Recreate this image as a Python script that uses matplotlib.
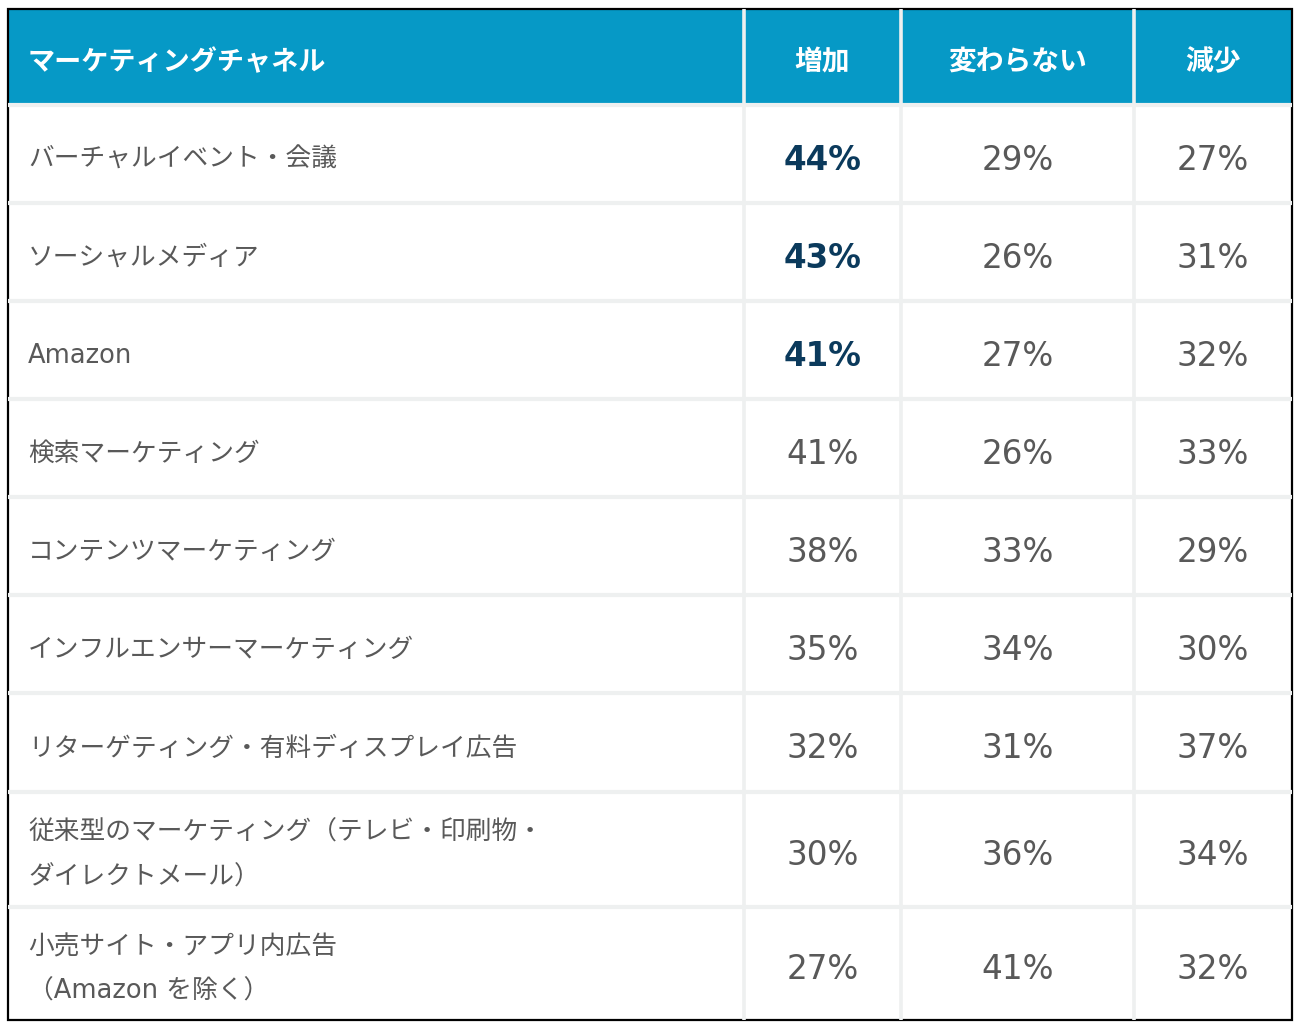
import matplotlib
matplotlib.use("Agg")
import matplotlib.pyplot as plt
from matplotlib.patches import Rectangle

plt.rcParams['font.family'] = ['Noto Sans CJK JP', 'DejaVu Sans']

headers = ['マーケティングチャネル', '増加', '変わらない', '減少']
channels = [
    'バーチャルイベント・会議',
    'ソーシャルメディア',
    'Amazon',
    '検索マーケティング',
    'コンテンツマーケティング',
    'インフルエンサーマーケティング',
    'リターゲティング・有料ディスプレイ広告',
    '従来型のマーケティング（テレビ・印刷物・\nダイレクトメール）',
    '小売サイト・アプリ内広告\n（Amazon を除く）',
]
increase = [44, 43, 41, 41, 38, 35, 32, 30, 27]
unchanged = [29, 26, 27, 26, 33, 34, 31, 36, 41]
decrease = [27, 31, 32, 33, 29, 30, 37, 34, 32]
highlight = [True, True, True, False, False, False, False, False, False]

# layout in pixels
W, H = 1305, 1029
left, right, top, bottom = 8, 1292, 9, 1020
col_edges = [left, 744, 901, 1134, right]
row_edges = [105, 203, 301, 399, 497, 595, 693, 792, 907, bottom]

header_bg = '#0699c6'
grid_col = '#eef0f0'
text_col = '#595959'
bold_col = '#0b3a5c'

fig = plt.figure(figsize=(W / 100, H / 100), dpi=100)
ax = fig.add_axes([0, 0, 1, 1])
ax.set_xlim(0, W)
ax.set_ylim(H, 0)
ax.axis('off')

# header
ax.add_patch(Rectangle((left, top), right - left, row_edges[0] - top,
                       facecolor=header_bg, edgecolor='none'))
# separators
for x in col_edges[1:-1]:
    ax.plot([x, x], [top, bottom], color=grid_col, lw=2.6, solid_capstyle='butt')
for y in row_edges[:-1]:
    ax.plot([left, right], [y, y], color=grid_col, lw=3.0, solid_capstyle='butt')
# outer border
ax.add_patch(Rectangle((left, top), right - left, bottom - top,
                       facecolor='none', edgecolor='black', lw=1.6))

col_centers = [(col_edges[i] + col_edges[i + 1]) / 2 for i in range(len(col_edges) - 1)]
hy = (top + row_edges[0]) / 2 + 5
ax.text(28, hy, headers[0], color='white', fontsize=19.5, fontweight='bold',
        ha='left', va='center')
for c, h in zip(col_centers[1:], headers[1:]):
    ax.text(c, hy, h, color='white', fontsize=20, fontweight='bold',
            ha='center', va='center')

for i, name in enumerate(channels):
    y0, y1 = row_edges[i], row_edges[i + 1]
    yc = (y0 + y1) / 2 + 6
    # latin letters in DejaVu (wider, like the original), kana/kanji fall back to Noto
    ax.text(28, yc, name, color=text_col, fontsize=18.5, ha='left', va='center',
            linespacing=1.95, family=['DejaVu Sans', 'Noto Sans CJK JP'])
    vals = [increase[i], unchanged[i], decrease[i]]
    for j, v in enumerate(vals):
        bold = highlight[i] and j == 0
        ax.text(col_centers[j + 1], yc, f'{v}%', fontsize=23.5,
                family='DejaVu Sans',
                color=bold_col if bold else text_col,
                fontweight='bold' if bold else 'normal',
                ha='center', va='center')

fig.savefig('out.png', dpi=100, facecolor='white')
